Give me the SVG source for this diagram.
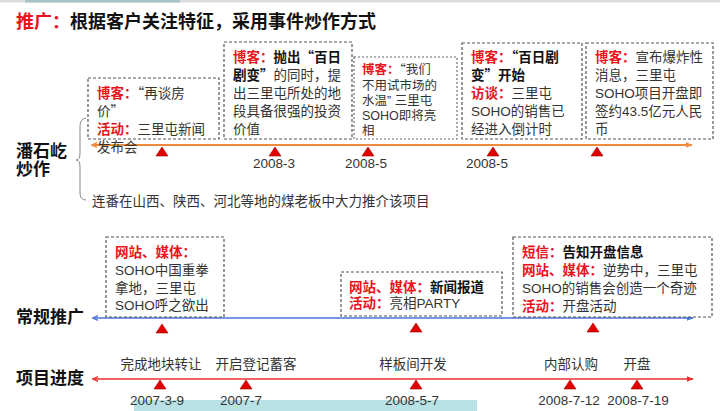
<svg xmlns="http://www.w3.org/2000/svg" width="720" height="411" viewBox="0 0 720 411">
<defs>
<style>
text{font-family:"Liberation Sans","Noto Sans CJK SC",sans-serif;font-size:13.5px;fill:#333}
.r{fill:#e8141b;font-weight:bold}
.b{fill:#111;font-weight:bold}
.q{font-family:"Noto Sans CJK SC",sans-serif}
.h{font-size:17px;font-weight:bold;fill:#111}
.s{font-size:12.5px}
.box{fill:#fff;stroke:#555;stroke-width:1.2;stroke-dasharray:3 2}
.box2{fill:#fff;stroke:#666;stroke-width:1.1;stroke-dasharray:2 2}
.tri{fill:#e00000;stroke:#a00000;stroke-width:0.6}
.d{text-anchor:middle}
</style>
<marker id="ao" viewBox="0 0 10 10" refX="9" refY="5" markerWidth="7" markerHeight="7" markerUnits="userSpaceOnUse" orient="auto"><path d="M0,1 L10,5 L0,9 Z" fill="#f08a3c"/></marker>
<marker id="aos" viewBox="0 0 10 10" refX="1" refY="5" markerWidth="6" markerHeight="6" markerUnits="userSpaceOnUse" orient="auto"><path d="M10,1 L0,5 L10,9" fill="none" stroke="#f08a3c" stroke-width="2"/></marker>
<marker id="ab" viewBox="0 0 10 10" refX="9" refY="5" markerWidth="7" markerHeight="7" markerUnits="userSpaceOnUse" orient="auto"><path d="M0,1 L10,5 L0,9 Z" fill="#4a74d8"/></marker>
<marker id="abs" viewBox="0 0 10 10" refX="1" refY="5" markerWidth="6" markerHeight="6" markerUnits="userSpaceOnUse" orient="auto"><path d="M10,1 L0,5 L10,9" fill="none" stroke="#4a74d8" stroke-width="2"/></marker>
<marker id="ar" viewBox="0 0 10 10" refX="9" refY="5" markerWidth="7" markerHeight="7" markerUnits="userSpaceOnUse" orient="auto"><path d="M0,1 L10,5 L0,9 Z" fill="#e83030"/></marker>
<marker id="ars" viewBox="0 0 10 10" refX="1" refY="5" markerWidth="6" markerHeight="6" markerUnits="userSpaceOnUse" orient="auto"><path d="M10,1 L0,5 L10,9" fill="none" stroke="#e83030" stroke-width="2"/></marker>
</defs>
<rect width="720" height="411" fill="#fff"/>
<rect x="0" y="0" width="720" height="2.5" fill="#dcdcdc"/>
<rect x="25" y="0" width="155" height="2.5" fill="#a8c3c7"/>
<rect x="134" y="400" width="343" height="11" fill="#b8e1e6"/>

<text x="16" y="28" style="font-size:18px;font-weight:bold"><tspan fill="#e8141b">推广：</tspan><tspan fill="#111">根据客户关注特征，采用事件炒作方式</tspan></text>

<g id="labels">
<text class="h" x="16" y="157">潘石屹</text>
<text class="h" x="16" y="175">炒作</text>
<text class="h" x="16" y="323">常规推广</text>
<text class="h" x="16" y="384">项目进度</text>
<path d="M86,118 Q80,119 80,126 L80,153 Q80,160 76,160 Q80,160 80,167 L80,193 Q80,200 86,200" fill="none" stroke="#888" stroke-width="1"/>
<text x="92" y="206">连番在山西、陕西、河北等地的煤老板中大力推介该项目</text>
</g>

<g id="connectors">
<line x1="92" y1="145" x2="692" y2="145" stroke="#f08a3c" stroke-width="2" marker-end="url(#ao)" marker-start="url(#aos)"/>
<line x1="93" y1="318" x2="693" y2="318" stroke="#4a74d8" stroke-width="1.5" marker-end="url(#ab)" marker-start="url(#abs)"/>
<line x1="93" y1="379" x2="693" y2="379" stroke="#e83030" stroke-width="1.5" marker-end="url(#ar)" marker-start="url(#ars)"/>
</g>

<g id="box1">
<rect class="box" x="88" y="78" width="131" height="61"/>
<text x="97" y="98"><tspan class="r">博客：</tspan><tspan class="q">“</tspan>再谈房</text>
<text x="97" y="116">价<tspan class="q">”</tspan></text>
<text x="97" y="134"><tspan class="r">活动：</tspan>三里屯新闻</text>
<text x="97" y="152">发布会</text>
</g>
<g id="box2">
<rect class="box" x="224" y="42" width="128" height="97"/>
<text x="233" y="62"><tspan class="r">博客：</tspan><tspan class="b">抛出<tspan class="q">“</tspan>百日</tspan></text>
<text x="233" y="80"><tspan class="b">剧变<tspan class="q">”</tspan></tspan>的同时，提</text>
<text x="233" y="98">出三里屯所处的地</text>
<text x="233" y="116">段具备很强的投资</text>
<text x="233" y="134">价值</text>
</g>
<g id="box3">
<rect class="box2" x="354" y="57" width="103" height="82"/>
<text class="s" x="362" y="74"><tspan class="r">博客：</tspan><tspan class="q">“</tspan>我们</text>
<text class="s" x="362" y="90">不用试市场的</text>
<text class="s" x="362" y="105">水温” 三里屯</text>
<text class="s" x="362" y="120">SOHO即将亮</text>
<text class="s" x="362" y="135">相</text>
</g>
<g id="box4">
<rect class="box" x="462" y="43" width="120" height="96"/>
<text x="471" y="62"><tspan class="r">博客：</tspan><tspan class="b"><tspan class="q">“</tspan>百日剧</tspan></text>
<text x="471" y="80"><tspan class="b">变<tspan class="q">”</tspan>开始</tspan></text>
<text x="471" y="98"><tspan class="r">访谈：</tspan>三里屯</text>
<text x="471" y="116">SOHO的销售已</text>
<text x="471" y="134">经进入倒计时</text>
</g>
<g id="box5">
<rect class="box" x="586" y="43" width="127" height="96"/>
<text x="595" y="62"><tspan class="r">博客：</tspan>宣布爆炸性</text>
<text x="595" y="80">消息，三里屯</text>
<text x="595" y="98">SOHO项目开盘即</text>
<text x="595" y="116">签约43.5亿元人民</text>
<text x="595" y="134">币</text>
</g>
<g id="marks1">
<path class="tri" d="M162,147 L168,156 L156,156 Z"/>
<path class="tri" d="M275,147 L281,156 L269,156 Z"/>
<path class="tri" d="M368,147 L374,156 L362,156 Z"/>
<path class="tri" d="M493,147 L499,156 L487,156 Z"/>
<path class="tri" d="M597,147 L603,156 L591,156 Z"/>
<text class="d" x="274" y="168">2008-3</text>
<text class="d" x="366" y="168">2008-5</text>
<text class="d" x="487" y="168">2008-5</text>
</g>

<g id="box6">
<rect class="box" x="106" y="237" width="118" height="80"/>
<text x="115" y="257" class="r">网站、媒体：</text>
<text x="115" y="275">SOHO中国重拳</text>
<text x="115" y="293">拿地，三里屯</text>
<text x="115" y="310">SOHO呼之欲出</text>
</g>
<g id="box7">
<rect class="box" x="341" y="272" width="161" height="44"/>
<text x="349" y="292"><tspan class="r">网站、媒体：</tspan><tspan class="b">新闻报道</tspan></text>
<text x="349" y="308"><tspan class="r">活动：</tspan>亮相PARTY</text>
</g>
<g id="box8">
<rect class="box" x="513" y="237" width="199" height="80"/>
<text x="522" y="257"><tspan class="r">短信：</tspan><tspan class="b">告知开盘信息</tspan></text>
<text x="522" y="275"><tspan class="r">网站、媒体：</tspan>逆势中，三里屯</text>
<text x="522" y="293">SOHO的销售会创造一个奇迹</text>
<text x="522" y="311"><tspan class="r">活动：</tspan>开盘活动</text>
</g>
<g id="marks2">
<path class="tri" d="M162,324 L168,333 L156,333 Z"/>
<path class="tri" d="M416,323 L422,332 L410,332 Z"/>
<path class="tri" d="M593,323 L599,332 L587,332 Z"/>
</g>

<g id="progress">
<path class="tri" d="M160,380 L166,389 L154,389 Z"/>
<path class="tri" d="M246,380 L252,389 L240,389 Z"/>
<path class="tri" d="M416,380 L422,389 L410,389 Z"/>
<path class="tri" d="M570,380 L576,389 L564,389 Z"/>
<path class="tri" d="M637,380 L643,389 L631,389 Z"/>
<text class="d" x="161" y="369">完成地块转让</text>
<text class="d" x="256" y="369">开启登记蓄客</text>
<text class="d" x="413" y="369">样板间开发</text>
<text class="d" x="571" y="369">内部认购</text>
<text class="d" x="637" y="369">开盘</text>
<text class="d" x="157" y="405">2007-3-9</text>
<text class="d" x="241" y="405">2007-7</text>
<text class="d" x="412" y="405">2008-5-7</text>
<text class="d" x="569" y="405">2008-7-12</text>
<text class="d" x="638" y="405">2008-7-19</text>
</g>
</svg>
